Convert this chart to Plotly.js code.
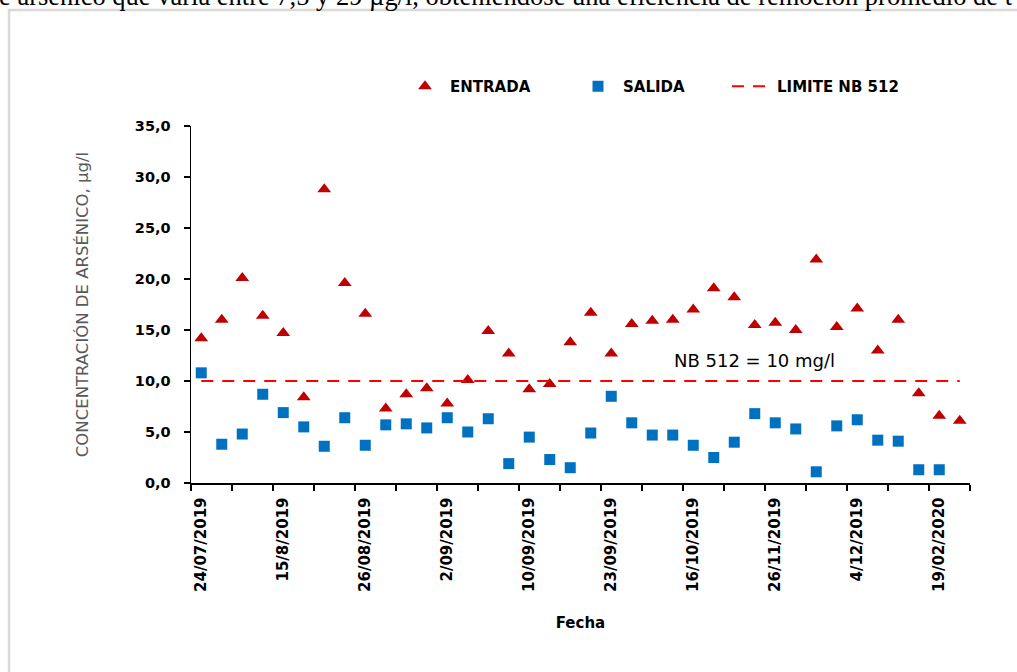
<!DOCTYPE html>
<html>
<head>
<meta charset="utf-8">
<script src="https://cdn.plot.ly/plotly-3.0.1.min.js"></script>
<style>
  html, body { margin: 0; padding: 0; background: #fff; }
  #chart { width: 1017px; height: 672px; }
</style>
</head>
<body>
<div id="chart"></div>
<script>
// ---- data ----
const muestra = [0,1,2,3,4,5,6,7,8,9,10,11,12,13,14,15,16,17,18,19,20,21,22,23,24,25,26,27,28,29,30,31,32,33,34,35,36,37];
const entrada = [14.2,16.0,20.1,16.4,14.7,8.4,28.8,19.6,16.6,7.3,8.7,9.3,7.8,10.1,14.9,12.7,9.2,9.7,13.8,16.7,12.7,15.6,15.9,16.0,17.0,19.1,18.2,15.5,15.7,15.0,21.9,15.3,17.1,13.0,16.0,8.8,6.6,6.1];
const salida = [10.8,3.8,4.8,8.7,6.9,5.5,3.6,6.4,3.7,5.7,5.8,5.4,6.4,5.0,6.3,1.9,4.5,2.3,1.5,4.9,8.5,5.9,4.7,4.7,3.7,2.5,4.0,6.8,5.9,5.3,1.1,5.6,6.2,4.2,4.1,1.3,1.3,null];
const limiteX = [0, 37];
const limiteY = [10, 10];
const xLabelPos = [0,4,8,12,16,20,24,28,32,36];
const xLabels = ["24/07/2019","15/8/2019","26/08/2019","2/09/2019","10/09/2019","23/09/2019","16/10/2019","26/11/2019","4/12/2019","19/02/2020"];
const xTickMarks = [-0.5,1.5,3.5,5.5,7.5,9.5,11.5,13.5,15.5,17.5,19.5,21.5,23.5,25.5,27.5,29.5,31.5,33.5,35.5,37.5];
const yTickVals = [0,5,10,15,20,25,30,35];
const yTickText = ["0,0","5,0","10,0","15,0","20,0","25,0","30,0","35,0"];

// ---- layout geometry ----
const W = 1017, H = 672;
const mL = 191, mR = 47, mT = 126, mB = 189;
const plotW = W - mL - mR, plotH = H - mT - mB;
const px2x = p => (p - mL) / plotW;
const px2y = p => (H - mB - p) / plotH;

const FONT = "DejaVu Sans";

const traces = [
  {
    x: muestra, y: entrada, name: "ENTRADA", type: "scatter", mode: "markers",
    marker: { symbol: "triangle-up", size: 12, color: "#C00000" },
    legendwidth: 118
  },
  {
    x: muestra, y: salida, name: "SALIDA", type: "scatter", mode: "markers",
    marker: { symbol: "square", size: 11, color: "#0070C0" },
    legendwidth: 99
  },
  {
    x: limiteX, y: limiteY, name: "LIMITE NB 512", type: "scatter", mode: "lines",
    line: { color: "#FF0000", width: 2, dash: "12px,9px" }
  }
];

const layout = {
  width: W, height: H,
  margin: { l: mL, r: mR, t: mT, b: mB },
  paper_bgcolor: "#ffffff", plot_bgcolor: "#ffffff",
  font: { family: FONT, color: "#000" },
  showlegend: true,
  legend: {
    orientation: "h", xref: "container", yref: "container",
    x: 400 / W, y: 1 - 70 / H, xanchor: "left", yanchor: "top",
    itemwidth: 40,
    font: { family: FONT, size: 15, color: "#000", weight: "bold" },
    bgcolor: "rgba(0,0,0,0)"
  },
  xaxis: {
    range: [-0.5, 37.5], showgrid: false, zeroline: false,
    showline: true, linecolor: "#000", linewidth: 1.5,
    tickmode: "array", tickvals: xLabelPos, ticktext: xLabels,
    ticks: "", tickangle: -90, ticklabelstandoff: 7,
    tickfont: { family: FONT, size: 15, color: "#000", weight: "bold" },
    minor: { tickmode: "array", tickvals: xTickMarks, ticks: "outside", ticklen: 6, tickwidth: 1.5, tickcolor: "#000", showgrid: false },
    title: { text: "Fecha", font: { family: FONT, size: 15, color: "#000", weight: "bold" }, standoff: 26 },
    fixedrange: true
  },
  yaxis: {
    range: [0, 35], showgrid: false, zeroline: false,
    showline: true, linecolor: "#000", linewidth: 1.5,
    tickmode: "array", tickvals: yTickVals, ticktext: yTickText,
    ticks: "outside", ticklen: 6, tickwidth: 1.5, tickcolor: "#000", ticklabelstandoff: 10,
    tickfont: { family: FONT, size: 14.5, color: "#000", weight: "bold" },
    title: { text: "CONCENTRACIÓN DE ARSÉNICO, µg/l", font: { family: FONT, size: 16.5, color: "#595959" }, standoff: 42 },
    fixedrange: true
  },
  annotations: [
    {
      text: "NB 512 = 10 mg/l", xref: "paper", yref: "paper",
      x: px2x(754), y: px2y(360), xanchor: "center", yanchor: "middle",
      showarrow: false, font: { family: FONT, size: 18, color: "#000" }
    },
    {
      text: "e arsénico que varía entre 7,5 y 29 µg/l, obteniéndose una eficiencia de remoción promedio de t",
      xref: "paper", yref: "paper",
      x: px2x(-3), y: px2y(13), xanchor: "left", yanchor: "bottom",
      showarrow: false, font: { family: "Liberation Serif", size: 26.5, color: "#000" }
    }
  ],
  shapes: [
    {
      type: "rect", xref: "paper", yref: "paper",
      x0: px2x(9), x1: px2x(1200), y0: px2y(900), y1: px2y(10),
      line: { color: "#D9D9D9", width: 2.5 }, fillcolor: "rgba(0,0,0,0)", layer: "below"
    }
  ]
};

Plotly.newPlot("chart", traces, layout, { displayModeBar: false, staticPlot: true });
</script>
</body>
</html>
